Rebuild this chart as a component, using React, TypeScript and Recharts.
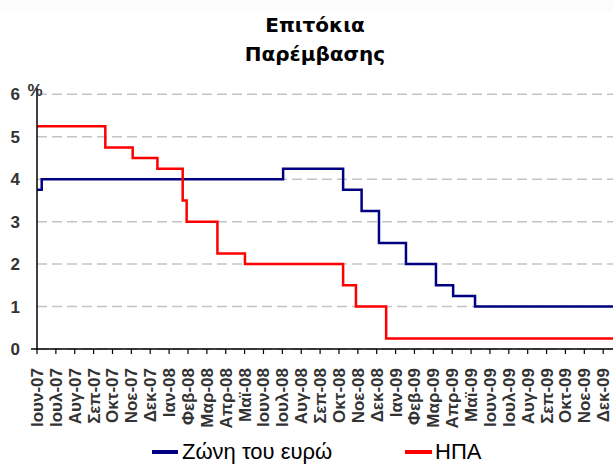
import { LineChart, Line, XAxis, YAxis, CartesianGrid } from "recharts";

// month tick labels, Jun-07 .. Dec-09
const MONTH_LABELS = [
  "Ιουν-07", "Ιουλ-07", "Αυγ-07", "Σεπ-07", "Οκτ-07", "Νοε-07", "Δεκ-07",
  "Ιαν-08", "Φεβ-08", "Μαρ-08", "Απρ-08", "Μαϊ-08", "Ιουν-08", "Ιουλ-08",
  "Αυγ-08", "Σεπ-08", "Οκτ-08", "Νοε-08", "Δεκ-08", "Ιαν-09", "Φεβ-09",
  "Μαρ-09", "Απρ-09", "Μαϊ-09", "Ιουν-09", "Ιουλ-09", "Αυγ-09", "Σεπ-09",
  "Οκτ-09", "Νοε-09", "Δεκ-09",
];

// time in months since start of Jun-07, at each rate change
const EURO_T = [0, 0.25, 13.04, 16.22, 17.2, 18.12, 19.55, 21.14, 22.05, 23.21, 30.6];
const EURO_RATE = [3.75, 4.0, 4.25, 3.75, 3.25, 2.5, 2.0, 1.5, 1.25, 1.0, 1.0];

const US_T = [0, 3.62, 5.07, 6.38, 7.72, 7.93, 9.56, 11.02, 16.22, 16.9, 18.5, 30.6];
const US_RATE = [5.25, 4.75, 4.5, 4.25, 3.5, 3.0, 2.25, 2.0, 1.5, 1.0, 0.25, 0.25];

const Y_TICKS = [0, 1, 2, 3, 4, 5, 6];

const euroData = EURO_T.map((t, i) => ({ t, rate: EURO_RATE[i] }));
const usData = US_T.map((t, i) => ({ t, rate: US_RATE[i] }));

const FONT = "'Liberation Sans', Arial, sans-serif";

// eslint-disable-next-line @typescript-eslint/no-explicit-any
const MonthTick = (props: any) => {
  const { x, y, payload } = props;
  return (
    <text
      x={0}
      y={0}
      transform={`translate(${x + 6},${y + 12}) rotate(-90)`}
      textAnchor="end"
      fontSize={17}
      fontWeight="bold"
      fontFamily={FONT}
      fill="#333"
    >
      {MONTH_LABELS[payload.value]}
    </text>
  );
};

// eslint-disable-next-line @typescript-eslint/no-explicit-any
const RateTick = (props: any) => {
  const { y, payload } = props;
  return (
    <text
      x={20}
      y={y + 6}
      textAnchor="end"
      fontSize={17}
      fontWeight="bold"
      fontFamily={FONT}
      fill="#333"
    >
      {payload.value}
    </text>
  );
};

export default function App() {
  return (
    <div
      style={{
        position: "fixed",
        left: 0,
        top: 0,
        width: 613,
        height: 465,
        background: "#fff",
        overflow: "hidden",
      }}
    >
      <div style={{ position: "absolute", left: 0, top: 0, width: 613, height: 12, background: "#fcfcfc" }} />
      <LineChart
        width={613}
        height={465}
        margin={{ top: 88, right: 0, bottom: 0, left: 0 }}
      >
        <CartesianGrid
          vertical={false}
          horizontalValues={Y_TICKS}
          stroke="#c4c4c4"
          strokeWidth={1.5}
          strokeDasharray="10 5"
        />
        <XAxis
          dataKey="t"
          type="number"
          domain={[0, 30.52]}
          ticks={MONTH_LABELS.map((_, i) => i)}
          allowDataOverflow
          interval={0}
          height={116}
          axisLine={{ stroke: "#000", strokeWidth: 1.5 }}
          tickLine={{ stroke: "#000", strokeWidth: 1.2 }}
          tickSize={5}
          tick={<MonthTick />}
        />
        <YAxis
          type="number"
          domain={[0, 6.15]}
          ticks={Y_TICKS}
          width={37}
          axisLine={{ stroke: "#000", strokeWidth: 1.5 }}
          tickLine={false}
          tick={<RateTick />}
        />
        <Line
          data={euroData}
          dataKey="rate"
          type="stepAfter"
          stroke="#000080"
          strokeWidth={2.5}
          dot={false}
          isAnimationActive={false}
        />
        <Line
          data={usData}
          dataKey="rate"
          type="stepAfter"
          stroke="#ff0000"
          strokeWidth={2.5}
          dot={false}
          isAnimationActive={false}
        />
      </LineChart>
      <svg
        width={613}
        height={465}
        style={{ position: "absolute", left: 0, top: 0, pointerEvents: "none" }}
      >
        <g fontFamily="'DejaVu Sans', sans-serif" fontWeight="bold" fill="#000" fontSize={20} textAnchor="middle">
          <text x={315} y={32}>Επιτόκια</text>
          <text x={315} y={61}>Παρέμβασης</text>
        </g>
        <text x={35} y={96} textAnchor="middle" fontFamily={FONT} fontWeight="bold" fontSize={17} fill="#333">
          %
        </text>
        <line x1={31} y1={349} x2={37} y2={349} stroke="#000" strokeWidth={1.5} />
        <line x1={152} y1={452} x2={178} y2={452} stroke="#000080" strokeWidth={4} />
        <text x={182} y={459} fontFamily={FONT} fontSize={22} fill="#000">
          Ζώνη του ευρώ
        </text>
        <line x1={405} y1={452} x2={432} y2={452} stroke="#ff0000" strokeWidth={4} />
        <text x={435} y={459} fontFamily={FONT} fontSize={22} fill="#000">
          ΗΠΑ
        </text>
      </svg>
    </div>
  );
}
